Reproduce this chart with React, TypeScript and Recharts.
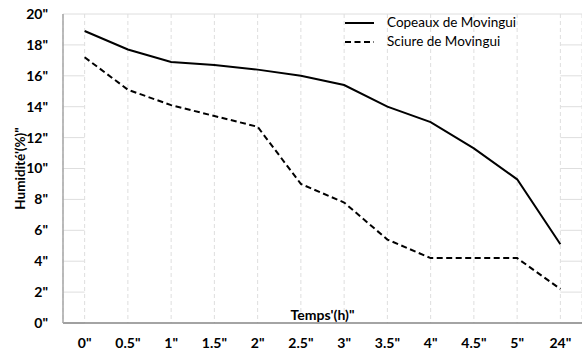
import { LineChart, Line, XAxis, YAxis, CartesianGrid, Legend } from 'recharts';

const CATEGORIES = ['0"', '0.5"', '1"', '1.5"', '2"', '2.5"', '3"', '3.5"', '4"', '4.5"', '5"', '24"'];
const COPEAUX = [18.9, 17.7, 16.9, 16.7, 16.4, 16.0, 15.4, 14.0, 13.0, 11.3, 9.3, 5.1];
const SCIURE = [17.2, 15.1, 14.1, 13.4, 12.7, 9.0, 7.8, 5.4, 4.2, 4.2, 4.2, 2.2];
const Y_TICKS = [0, 2, 4, 6, 8, 10, 12, 14, 16, 18, 20];

const SERIES = [
  { key: 'copeaux', name: 'Copeaux de Movingui', dash: undefined },
  { key: 'sciure', name: 'Sciure de Movingui', dash: '6 3.5' },
];

const data = CATEGORIES.map((t, i) => ({ t, copeaux: COPEAUX[i], sciure: SCIURE[i] }));

const FONT = 'Lato, "Open Sans", sans-serif';
const TOP = 14;
const GRID = '#dedede';
const PLOT_W = 582 - 63;
const HALF_BAND = PLOT_W / (CATEGORIES.length * 2);

// horizontal lines only show in the half-bands at both ends, the top one runs full width
function HorizontalLine(props: any) {
  const { x1, x2, y1 } = props;
  if (Math.abs(y1 - TOP) < 1) {
    return <line x1={x1} x2={x2} y1={y1} y2={y1} stroke={GRID} strokeWidth={1} />;
  }
  return (
    <g>
      <line x1={x1} x2={x1 + HALF_BAND} y1={y1} y2={y1} stroke={GRID} strokeWidth={1} />
      <line x1={x2 - HALF_BAND} x2={x2} y1={y1} y2={y1} stroke={GRID} strokeWidth={1} />
    </g>
  );
}

function LegendContent() {
  return (
    <div style={{ fontFamily: FONT, fontSize: 13.5, color: '#000', lineHeight: '19px' }}>
      {SERIES.map((s) => (
        <div key={s.key} style={{ display: 'flex', alignItems: 'center', whiteSpace: 'nowrap' }}>
          <svg width={42} height={19}>
            <line x1={0} x2={29} y1={10} y2={10} stroke="#000" strokeWidth={2} strokeDasharray={s.dash} />
          </svg>
          <span>{s.name}</span>
        </div>
      ))}
    </div>
  );
}

export default function App() {
  return (
    <div style={{ position: 'absolute', left: 0, top: 0, background: '#fff' }}>
      <LineChart width={582} height={351} data={data} margin={{ top: TOP, right: 0, bottom: 0, left: 0 }}>
        <CartesianGrid
          horizontal={HorizontalLine}
          vertical
          stroke={GRID}
          strokeDasharray="4 3"
        />
        <XAxis
          dataKey="t"
          height={28}
          padding={{ left: HALF_BAND, right: HALF_BAND }}
          tickLine={false}
          axisLine={{ stroke: '#868686', strokeWidth: 1.5 }}
          tickMargin={9}
          tick={{ fill: '#000', fontFamily: FONT, fontSize: 14, fontWeight: 700 }}
          interval={0}
          label={{ value: 'Temps\'(h)"', position: 'top', offset: 3, fill: '#000', fontFamily: FONT, fontSize: 14, fontWeight: 700 }}
        />
        <YAxis
          width={63}
          domain={[0, 20]}
          ticks={Y_TICKS}
          tickFormatter={(v: number) => `${v}"`}
          tickLine={false}
          axisLine={{ stroke: '#a6a6a6', strokeWidth: 1.5 }}
          tickMargin={9}
          tick={{ fill: '#000', fontFamily: FONT, fontSize: 14, fontWeight: 700 }}
          label={{
            value: 'Humidité\'(%)"',
            angle: -90,
            position: 'insideLeft',
            offset: 20,
            fill: '#000',
            fontFamily: FONT,
            fontSize: 13.5,
            fontWeight: 700,
            style: { textAnchor: 'middle' },
          }}
        />
        {/* horizontal + middle keeps the legend from reserving chart space */}
        <Legend
          layout="horizontal"
          verticalAlign="middle"
          align="center"
          content={<LegendContent />}
          wrapperStyle={{ top: 13, left: 345, width: 220 }}
        />
        {SERIES.map((s) => (
          <Line
            key={s.key}
            type="linear"
            dataKey={s.key}
            name={s.name}
            stroke="#000"
            strokeWidth={2}
            strokeDasharray={s.dash}
            dot={false}
            activeDot={false}
            isAnimationActive={false}
          />
        ))}
      </LineChart>
    </div>
  );
}
